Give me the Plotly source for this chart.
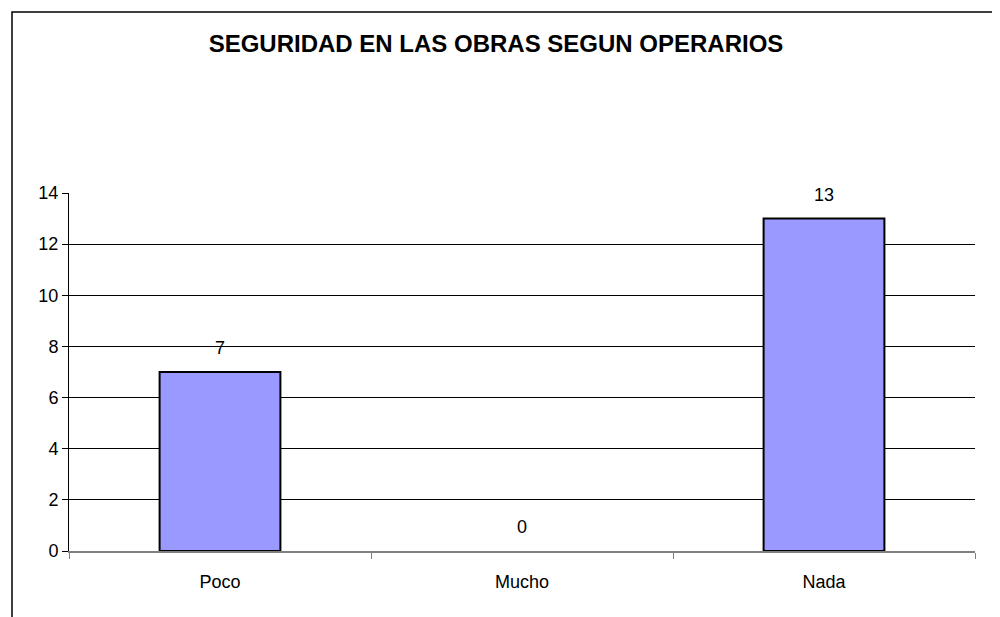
import plotly.graph_objects as go

categories = ["Poco", "Mucho", "Nada"]
values = [7, 0, 13]
y_ticks = [0, 2, 4, 6, 8, 10, 12, 14]
title_text = "SEGURIDAD EN LAS OBRAS SEGUN OPERARIOS"

# page body has an 8px margin; figure sized to fit the window
W, H = 992, 609
L, R, T, B = 61, 25, 185, 66
pw, ph = W - L - R, H - T - B

FONT = "Liberation Sans, Arial"

fig = go.Figure()
fig.add_trace(go.Bar(
    x=categories, y=values,
    marker=dict(color="#9999FF",
                line=dict(color="black", width=[2 if v > 0 else 0 for v in values])),
    width=0.4,
))

for c, v in zip(categories, values):
    fig.add_annotation(x=c, y=v, text=str(v), showarrow=False,
                       yanchor="middle", yshift=24,
                       font=dict(family=FONT, size=18, color="black"))

# outer frame
fig.add_shape(type="rect", xref="paper", yref="paper",
              x0=(4 - L) / pw, x1=(988 - L) / pw,
              y0=-(H + 20 - (T + ph)) / ph, y1=(T + ph - 4) / ph,
              line=dict(color="black", width=1.5), fillcolor="rgba(0,0,0,0)", layer="below")

fig.update_layout(
    width=W, height=H,
    margin=dict(l=L, r=R, t=T, b=B),
    paper_bgcolor="white", plot_bgcolor="white",
    showlegend=False,
    title=dict(text="<b>" + title_text + "</b>", x=(496 - 8) / W, xanchor="center",
               y=1 - 36 / H, yanchor="middle", xref="container", yref="container",
               font=dict(family=FONT, size=24, color="black")),
    font=dict(family=FONT, size=18, color="black"),
)
fig.update_xaxes(
    showline=True, linecolor="#808080", linewidth=1.5,
    ticks="outside", tickson="boundaries", ticklen=6, tickcolor="#808080",
    ticklabelstandoff=14,
    tickfont=dict(size=18), showgrid=False,
)
fig.update_yaxes(
    range=[0, 14], tickvals=y_ticks, showline=True, linecolor="black", linewidth=1,
    ticks="outside", ticklen=6, tickcolor="black",
    showgrid=True, gridcolor="black", gridwidth=1, zeroline=False,
    tickfont=dict(size=18),
)

fig.write_html("out.html")
